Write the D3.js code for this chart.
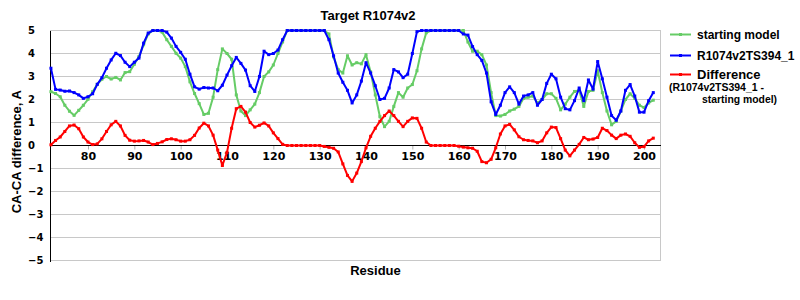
<!DOCTYPE html>
<html><head><meta charset="utf-8">
<script src="https://cdn.jsdelivr.net/npm/d3@7"></script>
<style>body{margin:0;background:#fff;} svg{display:block;}</style>
</head><body><svg id="c" width="800" height="300"></svg>
<script>
const chartTitle = "Target R1074v2";
const xTitle = "Residue";
const yTitle = "CA-CA difference, A";
const residues = d3.range(72, 203);
const startingModel = [
 2.34,2.26,2.12,1.75,1.49,1.31,1.53,1.75,2.01,2.34,
 2.66,2.88,3.0,2.89,2.96,2.85,3.17,3.21,3.53,3.87,
 4.38,4.85,5,5,4.93,4.6,4.31,4.01,3.8,3.43,
 2.77,2.26,1.82,1.35,1.4,2.1,3.3,4.2,4.0,3.75,
 2.2,1.5,1.3,1.55,1.8,2.3,3.0,3.2,3.5,4.0,
 4.5,5,5,5,5,5,5,5,5,5,
 4.85,3.85,3.3,3.15,3.9,3.5,3.6,3.55,3.95,3.2,
 2.2,1.25,0.82,1.05,1.7,2.3,2.1,2.5,2.65,3.25,
 4.2,4.9,5,5,5,5,5,5,5,5,
 4.5,4.1,4.1,3.95,3.5,2.3,1.3,1.28,1.35,1.5,
 1.58,1.7,2.05,2.1,2.15,1.85,2.0,2.25,2.25,2.05,
 1.55,1.8,2.1,2.35,2.4,1.7,2.35,2.4,3.25,2.3,
 1.5,0.9,1.05,1.5,2.0,2.25,2.05,1.75,1.65,1.85,1.97];
const modelTS394 = [
 3.36,2.44,2.41,2.36,2.37,2.3,2.2,2.05,2.12,2.25,
 2.66,2.95,3.36,3.72,4.01,3.91,3.62,3.43,3.62,3.8,
 4.45,4.89,5,5,5,4.93,4.67,4.31,4.05,3.75,
 3.1,2.55,2.45,2.52,2.5,2.5,2.38,2.62,3.06,3.47,
 3.83,3.57,3.28,2.6,2.35,3.0,4.1,3.95,4.0,4.15,
 4.6,5,5,5,5,5,5,5,5,5,
 4.6,3.9,3.15,2.75,2.4,1.85,2.2,2.8,3.6,3.15,
 2.6,2.0,2.05,2.5,3.3,3.2,2.95,3.1,4.0,4.95,
 5,5,5,5,5,5,5,5,5,4.85,
 4.8,4.3,3.95,3.7,3.15,1.9,1.35,1.75,2.3,2.55,
 2.3,1.8,2.15,2.2,2.3,1.75,2.0,2.7,3.1,2.9,
 2.1,1.6,1.55,1.95,2.5,1.95,2.85,2.45,3.65,2.9,
 2.1,1.3,1.1,1.5,2.4,2.65,2.15,1.45,1.45,1.95,2.3];
const difference = [
 0.03,0.22,0.37,0.61,0.85,0.89,0.73,0.37,0.15,0.04,
 0.07,0.29,0.61,0.9,1.05,0.85,0.44,0.23,0.19,0.2,
 0.22,0.15,0.04,0.09,0.16,0.26,0.29,0.25,0.19,0.19,
 0.25,0.44,0.76,0.97,0.85,0.45,-0.2,-0.87,-0.3,0.75,
 1.6,1.7,1.45,1.0,0.8,0.88,0.98,0.85,0.55,0.3,
 0.05,0,0,0,0,0,0,0,0,-0.04,
 -0.08,-0.12,-0.28,-0.8,-1.3,-1.56,-1.2,-0.7,-0.1,0.4,
 0.75,1.05,1.3,1.5,1.3,1.05,0.82,1.05,1.2,1.18,
 0.75,0.15,0,0,0,0,0,0,-0.03,-0.07,
 -0.1,-0.12,-0.25,-0.7,-0.75,-0.6,-0.1,0.5,0.85,0.92,
 0.68,0.38,0.25,0.22,0.2,0.12,0.2,0.55,0.8,0.78,
 0.3,-0.2,-0.45,-0.2,0.05,0.35,0.25,0.28,0.35,0.75,
 0.65,0.45,0.3,0.45,0.5,0.4,0.12,-0.08,-0.05,0.2,0.32];
const xTickValues = [80,90,100,110,120,130,140,150,160,170,180,190,200];
const yTickValues = [5,4,3,2,1,0,-1,-2,-3,-4,-5];
const seriesNames = ["starting model","R1074v2TS394_1","Difference"];
const legendSubtitle = ["(R1074v2TS394_1 -","starting model)"];
const seriesColors = ["#66cc66","#0000ff","#ff0000"];

const svg = d3.select("#c");
const L = 50, R = 660.7, T = 30.5, B = 260.5;
const x = d3.scaleLinear().domain([71.8, 203.6]).range([L, R]);
const y = d3.scaleLinear().domain([-5, 5]).range([B, T]);
const sans = "'Liberation Sans', Arial, sans-serif";
const dv = "'DejaVu Sans', sans-serif";

// gridlines
const grid = svg.append("g");
grid.selectAll("line").data(yTickValues.filter(v => v !== 0)).join("line")
  .attr("x1", L).attr("x2", R).attr("y1", d => y(d)).attr("y2", d => y(d))
  .attr("stroke", "#c8c8c8").attr("stroke-width", 1).attr("shape-rendering", "crispEdges");
svg.append("line").attr("x1", R).attr("x2", R).attr("y1", T).attr("y2", B)
  .attr("stroke", "#c8c8c8").attr("shape-rendering", "crispEdges");

// x axis at zero
const xAxis = d3.axisBottom(x).tickValues(xTickValues).tickSize(4).tickPadding(3).tickFormat(d3.format("d"));
const gx = svg.append("g").attr("transform", `translate(0,${y(0)})`).call(xAxis);
gx.select(".domain").remove();
gx.selectAll(".tick line").attr("stroke", "#b0b0b0");
gx.selectAll(".tick text").attr("font-family", dv).attr("font-weight", "bold").attr("font-size", 11).attr("fill", "#000");
svg.append("line").attr("x1", L).attr("x2", R).attr("y1", y(0)).attr("y2", y(0))
  .attr("stroke", "#000").attr("shape-rendering", "crispEdges");

// y axis
const yAxis = d3.axisLeft(y).tickValues(yTickValues).tickSize(0).tickFormat(d => d < 0 ? "\u2212" + Math.abs(d) : d);
const gy = svg.append("g").attr("transform", `translate(${L},0)`).call(yAxis);
gy.select(".domain").remove();
gy.selectAll(".tick text").attr("font-family", dv).attr("font-weight", "bold").attr("font-size", 10)
  .attr("text-anchor", "start").attr("x", 28 - L).attr("fill", "#000");
svg.append("line").attr("x1", L + 0.5).attr("x2", L + 0.5).attr("y1", T).attr("y2", B + 1)
  .attr("stroke", "#000").attr("shape-rendering", "crispEdges");

// series
const seriesData = [startingModel, modelTS394, difference];
const line = d3.line().x((d, i) => x(residues[i])).y(d => y(d));
seriesData.forEach((vals, k) => {
  svg.append("path").datum(vals).attr("d", line).attr("fill", "none")
    .attr("stroke", seriesColors[k]).attr("stroke-width", 2).attr("stroke-linejoin", "round");
  svg.append("g").selectAll("rect").data(vals).join("rect")
    .attr("x", (d, i) => x(residues[i]) - 1.5).attr("y", d => y(d) - 1.5)
    .attr("width", 3).attr("height", 3).attr("fill", seriesColors[k]);
});

// titles
svg.append("text").attr("x", 368).attr("y", 20).attr("text-anchor", "middle")
  .attr("font-family", sans).attr("font-weight", "bold").attr("font-size", 13).text(chartTitle);
svg.append("text").attr("x", 375.5).attr("y", 275).attr("text-anchor", "middle")
  .attr("font-family", sans).attr("font-weight", "bold").attr("font-size", 13).text(xTitle);
svg.append("text").attr("transform", "translate(20.5,151.7) rotate(-90)").attr("text-anchor", "middle")
  .attr("font-family", sans).attr("font-weight", "bold").attr("font-size", 13).text(yTitle);

// legend
const legY = [34.5, 55.5, 74.5];
const legBase = [38.5, 59.5, 79];
const legSize = [12, 12, 13];
seriesNames.forEach((n, k) => {
  svg.append("line").attr("x1", 670).attr("x2", 691).attr("y1", legY[k]).attr("y2", legY[k])
    .attr("stroke", seriesColors[k]).attr("stroke-width", 2);
  svg.append("rect").attr("x", 679).attr("y", legY[k] - 1.5).attr("width", 3).attr("height", 3).attr("fill", seriesColors[k]);
  svg.append("text").attr("x", 697).attr("y", legBase[k]).attr("font-family", sans)
    .attr("font-weight", "bold").attr("font-size", legSize[k]).text(n);
});
svg.append("text").attr("x", 669).attr("y", 91).attr("font-family", sans).attr("font-weight", "bold")
  .attr("font-size", 10).attr("textLength", 95).attr("lengthAdjust", "spacingAndGlyphs").text(legendSubtitle[0]);
svg.append("text").attr("x", 702).attr("y", 102.5).attr("font-family", sans).attr("font-weight", "bold")
  .attr("font-size", 10).attr("textLength", 75).attr("lengthAdjust", "spacingAndGlyphs").text(legendSubtitle[1]);
</script></body></html>
